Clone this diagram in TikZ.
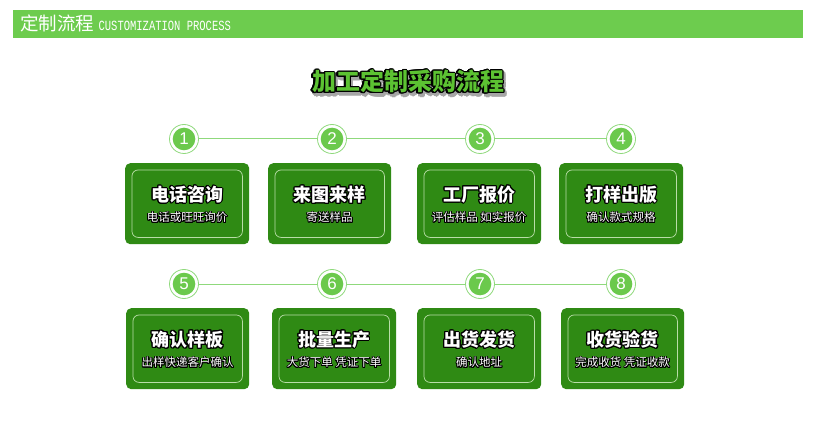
\documentclass[tikz,border=0pt]{standalone}
\usepackage{fontspec}
\setmainfont{Noto Sans CJK SC}
\newfontfamily\hmono{Liberation Mono}
\newfontfamily\numfont{Liberation Sans}
\usepackage[copies]{contour}
\usepackage{graphicx}
\definecolor{hdrg}{HTML}{6DCC4E}
\definecolor{boxg}{HTML}{2F8A14}
\definecolor{ringg}{HTML}{8FD97C}
\definecolor{dotg}{HTML}{6BC94C}
\definecolor{ttlg}{HTML}{5CC232}
\definecolor{innerw}{HTML}{B9DDA8}
\tikzset{
  stepcard/.style={fill=boxg,rounded corners=5pt,inner sep=0pt,anchor=north west},
  innerline/.style={draw=innerw,line width=0.7pt,rounded corners=6pt},
  numdot/.style={circle,draw=ringg,line width=0.8pt,fill=white,minimum size=29pt,inner sep=0pt,
    path picture={\fill[dotg] (path picture bounding box.center) circle (11.3pt);},
    font=\numfont\fontsize{17}{17}\selectfont,text=white},
  link/.style={draw=ringg,line width=1pt},
  cardtitle/.style={font=\bfseries\fontsize{18}{18}\selectfont,text=white,inner sep=0pt},
  cardsub/.style={font=\fontsize{11.5}{12}\selectfont,text=white,inner sep=0pt},
}
\newcommand{\mycard}[7]{%
  \node[stepcard,minimum width=#4pt,minimum height=81pt] (#1) at (#2,#3) {};
  \draw[innerline] ([xshift=7pt,yshift=-7pt]#1.north west) rectangle ([xshift=-7pt,yshift=7pt]#1.south east);
  \node[cardtitle] (#1t) at ([yshift=-32pt]#1.north) {\contourlength{1pt}\contour{black}{#6}};
  \node[cardsub] (#1s) at ([yshift=-55pt]#1.north) {\contourlength{0.8pt}\contour{black}{#7}};
}
\begin{document}
\begin{tikzpicture}[x=1pt,y=-1pt]
\useasboundingbox (0,0) rectangle (828,433);
\fill[white] (0,0) rectangle (828,433);
% header
\node[fill=hdrg,minimum width=790pt,minimum height=28pt,inner sep=0pt,anchor=north west] (hdr) at (13,10) {};
\node[anchor=west,inner sep=0pt,text=white,font=\fontsize{18.5}{18}\selectfont] (hdrcn) at (20,23) {定制流程};
\node[anchor=base west,inner sep=0pt,text=white,font=\hmono\fontsize{14}{14}\selectfont] (hdren) at ([xshift=4pt]hdrcn.base east) {\scalebox{0.75}[1]{CUSTOMIZATION PROCESS}};
% main title
\node[inner sep=0pt,font=\bfseries\fontsize{24}{24}\selectfont] (mainsh) at (410,85) {\contourlength{1.6pt}\textcolor{black!35}{\contour{black!35}{加工定制采购流程}}};
\node[inner sep=0pt,font=\bfseries\fontsize{24}{24}\selectfont] (main) at (408,82) {\contourlength{1.4pt}\textcolor{ttlg}{\contour{black}{加工定制采购流程}}};
% circles
\node[numdot] (c1) at (184,139) {1};
\node[numdot] (c2) at (332,139) {2};
\node[numdot] (c3) at (480,139) {3};
\node[numdot] (c4) at (621,139) {4};
\node[numdot] (c5) at (184,284) {5};
\node[numdot] (c6) at (332,284) {6};
\node[numdot] (c7) at (480,284) {7};
\node[numdot] (c8) at (621,284) {8};
\draw[link] (c1) -- (c2);
\draw[link] (c2) -- (c3);
\draw[link] (c3) -- (c4);
\draw[link] (c5) -- (c6);
\draw[link] (c6) -- (c7);
\draw[link] (c7) -- (c8);
% cards
\mycard{b1}{125}{163}{124}{81}{电话咨询}{电话或旺旺询价}
\mycard{b2}{268}{163}{123}{81}{来图来样}{寄送样品}
\mycard{b3}{417}{163}{124}{81}{工厂报价}{评估样品 如实报价}
\mycard{b4}{559}{163}{124}{81}{打样出版}{确认款式规格}
\mycard{b5}{126}{308}{123}{81}{确认样板}{出样快递客户确认}
\mycard{b6}{272}{308}{124}{81}{批量生产}{大货下单 凭证下单}
\mycard{b7}{417}{308}{124}{81}{出货发货}{确认地址}
\mycard{b8}{561}{308}{123}{81}{收货验货}{完成收货 凭证收款}
\end{tikzpicture}
\end{document}
